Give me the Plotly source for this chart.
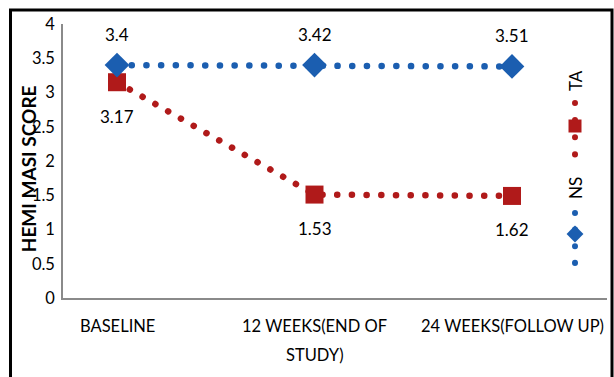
import plotly.graph_objects as go

# ---- data ----
categories = ["BASELINE", "12 WEEKS(END OF STUDY)", "24 WEEKS(FOLLOW UP)"]
tick_lines = [["BASELINE"], ["12 WEEKS(END OF", "STUDY)"], ["24 WEEKS(FOLLOW UP)"]]
ns_values = [3.40, 3.40, 3.38]
ta_values = [3.15, 1.51, 1.49]
ns_labels = ["3.4", "3.42", "3.51"]
ta_labels = ["3.17", "1.53", "1.62"]
y_title = "HEMI MASI SCORE"
series_names = ["TA", "NS"]

BLUE = "#1B5EB0"
RED = "#B01A1A"
FONT = "Lato"
DOT = "0.1px,14.6px"

fig = go.Figure()

fig.add_trace(go.Scatter(
    x=categories, y=ta_values, mode="lines+markers", name=series_names[0],
    line=dict(color=RED, width=6.5, dash=DOT),
    marker=dict(symbol="square", size=18, color=RED, line=dict(width=0)),
    showlegend=False, cliponaxis=False))
fig.add_trace(go.Scatter(
    x=categories, y=ns_values, mode="lines+markers", name=series_names[1],
    line=dict(color=BLUE, width=6.5, dash=DOT),
    marker=dict(symbol="diamond", size=19, color=BLUE, line=dict(width=0)),
    showlegend=False, cliponaxis=False))

# ---- custom vertical legend (pixel-like overlay axes) ----
leg_x = 575
fig.add_trace(go.Scatter(x=[leg_x, leg_x], y=[103, 156], mode="lines",
                         line=dict(color=RED, width=6, dash="0.1px,17px"),
                         xaxis="x2", yaxis="y2", showlegend=False, hoverinfo="skip"))
fig.add_trace(go.Scatter(x=[leg_x], y=[126], mode="markers",
                         marker=dict(symbol="square", size=13, color=RED),
                         xaxis="x2", yaxis="y2", showlegend=False, hoverinfo="skip"))
fig.add_trace(go.Scatter(x=[leg_x, leg_x], y=[213, 263], mode="lines",
                         line=dict(color=BLUE, width=6, dash="0.1px,16.5px"),
                         xaxis="x2", yaxis="y2", showlegend=False, hoverinfo="skip"))
fig.add_trace(go.Scatter(x=[leg_x], y=[234], mode="markers",
                         marker=dict(symbol="diamond", size=13, color=BLUE),
                         xaxis="x2", yaxis="y2", showlegend=False, hoverinfo="skip"))

annotations = []
annotations.append(dict(x=leg_x, y=81, xref="x2", yref="y2", text=series_names[0],
                        textangle=-90, showarrow=False, xanchor="center", yanchor="middle",
                        font=dict(family=FONT, size=17, color="black")))
annotations.append(dict(x=leg_x, y=188, xref="x2", yref="y2", text=series_names[1],
                        textangle=-90, showarrow=False, xanchor="center", yanchor="middle",
                        font=dict(family=FONT, size=17, color="black")))

# data labels
for c, v, t in zip(categories, ns_values, ns_labels):
    annotations.append(dict(x=c, y=v, xref="x", yref="y", text=t, showarrow=False,
                            xanchor="center", yanchor="middle",
                            yshift=31, font=dict(family=FONT, size=17, color="black")))
for c, v, t in zip(categories, ta_values, ta_labels):
    annotations.append(dict(x=c, y=v, xref="x", yref="y", text=t, showarrow=False,
                            xanchor="center", yanchor="middle",
                            yshift=-34, font=dict(family=FONT, size=17, color="black")))

# x tick labels (with Excel-like line spacing)
for c, lines in zip(categories, tick_lines):
    for i, ln in enumerate(lines):
        annotations.append(dict(x=c, y=0, xref="x", yref="paper", text=ln, showarrow=False,
                                xanchor="center", yanchor="middle", yshift=-28 - 29 * i,
                                font=dict(family=FONT, size=16.5, color="black")))

# y title
annotations.append(dict(x=-0.0643, y=0.47, xref="paper", yref="paper", text="<b>%s</b>" % y_title,
                        textangle=-90, showarrow=False, xanchor="center", yanchor="middle",
                        font=dict(family=FONT, size=19, color="black")))

fig.update_layout(
    width=614, height=377,
    margin=dict(l=63, r=7, t=24, b=79),
    paper_bgcolor="white", plot_bgcolor="white",
    font=dict(family=FONT, color="black"),
    xaxis=dict(type="category", range=[-0.2734, 2.481], showline=True, linecolor="#8a8a8a",
               linewidth=1.5, showgrid=False, zeroline=False, ticks="", showticklabels=False,
               fixedrange=True),
    yaxis=dict(range=[0, 4], dtick=0.5, showline=True, linecolor="#8a8a8a", linewidth=1.5,
               showgrid=False, zeroline=False, ticks="", ticklabelstandoff=3,
               tickfont=dict(family=FONT, size=16.5, color="black"), fixedrange=True),
    xaxis2=dict(overlaying="x", range=[63, 607], visible=False, fixedrange=True),
    yaxis2=dict(overlaying="y", range=[298, 24], visible=False, fixedrange=True),
    annotations=annotations,
    shapes=[dict(type="rect", xref="paper", yref="paper",
                 x0=-0.0965, x1=1.0092, y0=-0.372, y1=1.0511,
                 line=dict(color="black", width=3), fillcolor="rgba(0,0,0,0)")],
    showlegend=False,
)

post = """
document.body.style.margin = '0';
document.body.style.padding = '0';
var gd = document.getElementById('{plot_id}');
function roundCaps(){
  document.querySelectorAll('.scatterlayer path.js-line').forEach(function(p){
    p.style.strokeLinecap = 'round';
  });
}
roundCaps();
if (gd && gd.on) { gd.on('plotly_afterplot', roundCaps); }
setTimeout(roundCaps, 50);
"""

fig.write_html("out.html", post_script=post, config={"displayModeBar": False})
